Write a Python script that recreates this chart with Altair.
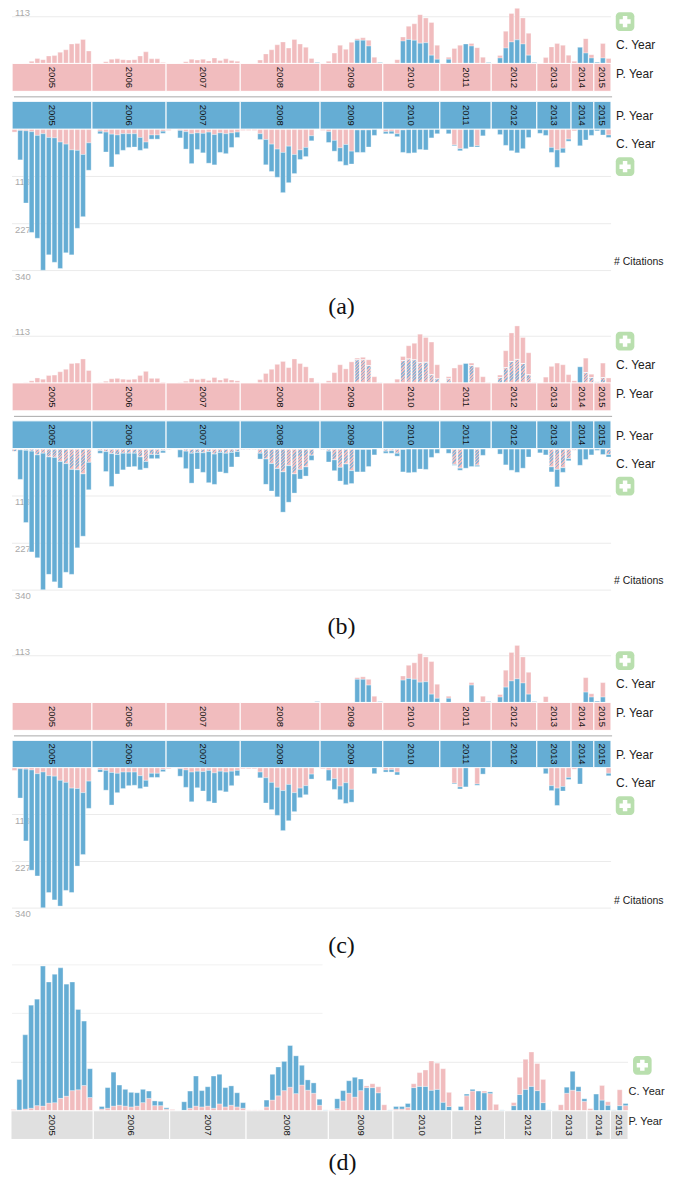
import altair as alt
import pandas as pd

YEARS = [2005, 2006, 2007, 2008, 2009, 2010, 2011, 2012, 2013, 2014, 2015]
SLOTS = [14, 13, 13, 14, 11, 10, 9, 8, 6, 4, 3]

top_total = [
    0,0,1,5,12,9,18,19,27,33,47,48,58,30,
    0,1,4,10,11,9,8,9,18,28,11,11,2,
    0,0,1,4,10,8,10,6,13,7,11,7,5,
    0,0,0,8,23,33,45,52,37,58,47,39,12,2,
    0,5,25,44,34,51,60,62,56,15,2,
    0,0,9,64,90,96,118,110,99,44,
    0,15,36,44,47,48,38,15,2,
    0,19,78,121,138,110,73,2,
    0,14,40,48,44,20,
    5,39,60,21,
    3,48,12,
]
top_blue = [0]*14 + [0]*13 + [0]*13 + [0]*13 + [2] + [
    0,0,0,0,0,0,56,56,42,0,2,
    0,0,0,54,58,56,49,50,20,10,
    0,10,0,0,47,42,0,0,2,
    0,13,37,52,57,47,20,2,
    0,0,0,0,0,0,
    0,39,25,13,
    3,13,0,
]
bottom_pink = [
    6,2,3,5,14,10,19,20,30,35,49,50,60,32,
    0,4,6,11,13,10,10,10,19,30,13,13,4,
    2,0,2,5,10,8,9,6,12,8,10,8,6,
    2,2,2,10,24,35,47,55,40,60,49,43,15,0,
    2,5,26,44,36,52,1,1,1,0,0,
    5,4,10,1,0,0,0,0,0,0,
    0,0,37,46,0,0,39,0,0,
    0,0,0,0,0,0,0,0,
    0,1,43,49,45,23,
    3,0,0,0,
    0,0,13,
]
bottom_total = [
    6,73,177,248,262,339,302,320,335,297,302,238,210,98,
    0,10,54,90,60,50,43,42,50,46,23,23,9,
    2,0,20,47,82,48,56,81,85,55,58,43,19,
    2,2,2,24,85,101,115,152,128,106,72,65,27,0,
    2,31,52,77,86,83,55,55,42,14,0,
    10,10,17,55,57,56,48,49,20,10,
    0,10,39,51,46,42,42,15,0,
    0,12,38,51,56,46,19,0,
    9,14,55,91,56,28,
    3,39,25,14,
    3,13,19,
]
d_pink = [
    3,2,4,6,12,11,18,19,29,34,47,49,59,31,
    0,4,6,11,13,11,9,11,19,29,12,12,4,
    3,0,1,6,11,9,11,6,16,9,13,9,6,
    2,2,2,9,25,35,47,55,40,60,48,41,13,0,
    2,5,23,41,32,47,4,9,14,14,0,
    4,4,8,9,32,38,68,61,78,33,
    0,0,35,46,0,4,40,15,0,
    0,7,40,70,80,63,54,0,
    0,14,41,48,45,22,
    5,0,34,8,
    0,37,12,
]
d_blue = [
    0,71,173,240,248,326,282,299,304,261,253,187,150,67,
    0,6,48,79,47,39,34,31,31,17,11,10,3,
    0,0,20,40,70,38,45,75,69,45,45,33,13,
    0,0,0,16,60,67,68,97,88,46,24,24,14,2,
    0,23,24,29,46,27,54,54,42,0,2,
    6,6,9,54,57,57,48,50,20,10,
    0,10,4,4,46,42,4,0,2,
    0,12,38,50,57,47,19,2,
    0,0,14,44,11,6,
    0,39,25,13,
    2,12,5,
]
d_blue_first = [0]*14 + [0]*13 + [0]*13 + [0]*14 + [
    0,0,0,0,0,0,1,1,1,0,0,
    0,0,0,1,1,1,1,1,1,1,
    0,0,0,0,0,1,0,0,0,
    1,1,1,1,1,1,1,1,
    0,0,0,0,0,0,
    0,0,1,1,
    0,1,0,
]
# Panel (c): which citation slots stay visible, per publication year
c_top_keep = {2008: [13], 2009: [6,7,8,9,10], 2010: [3,4,5,6,7,8,9], 2011: [1,5,7,8],
              2012: [1,2,3,4,5,6,7], 2013: [1], 2014: [2,3], 2015: [0,1]}
c_bottom_keep = {2005: list(range(14)), 2006: list(range(13)), 2007: list(range(13)),
                 2008: list(range(14)), 2009: [0,1,2,3,4,5,9], 2010: [0,1,2],
                 2011: [2,3,4,6,7], 2013: [1,2,3,4,5], 2014: [0,1], 2015: [2]}
# Panel (b): blue parts of the upper bars that are left solid
b_top_solid = {2011: [4], 2014: [1]}
TICKS = [113, 227, 340]

PINK = "#f1bcbe"
BLUE = "#65add4"
GREY = "#e0e0e0"
GRID = "#ebebeb"
SANS = "Liberation Sans"
N = sum(SLOTS)
WIDTH = 657

starts = [sum(SLOTS[:i]) for i in range(len(SLOTS))]
slot_year = [y for y, n in zip(YEARS, SLOTS) for _ in range(n)]
slot_idx = [i for n in SLOTS for i in range(n)]
frame = pd.DataFrame({
    "slot": range(N), "year": slot_year, "idx": slot_idx,
    "top_total": top_total, "top_blue": top_blue,
    "bottom_pink": bottom_pink, "bottom_total": bottom_total,
    "d_pink": d_pink, "d_blue": d_blue, "d_blue_first": d_blue_first,
})
strip = pd.DataFrame({
    "year": [str(y) for y in YEARS],
    "start": starts,
    "end": [s + n for s, n in zip(starts, SLOTS)],
})
strip["mid"] = (strip["start"] + strip["end"]) / 2
one = {"values": [{"a": 1}]}


def keep(df, table):
    mask = [i in table.get(y, []) for y, i in zip(df["year"], df["idx"])]
    return df[mask]


def band(xr):
    return alt.X("slot:O", axis=None,
                 scale=alt.Scale(domain=list(range(N)), range=xr, paddingInner=0.16, paddingOuter=0))


def bars(df, lo, hi, color, yscale, clip=False):
    d = pd.DataFrame({"slot": df["slot"], "lo": lo, "hi": hi})
    d = d[d["hi"] > d["lo"]]
    return alt.Chart(d).mark_bar(color=color, stroke="white", strokeWidth=0.6, strokeOpacity=0.55,
                                 clip=clip).encode(
        x=bandx, y=alt.Y("lo:Q", axis=None, scale=yscale, stack=None), y2="hi:Q")


def hatch_bars(df, lo, hi, yscale, px):
    """Striped bars: a striped fill whose stripe count follows the bar's height."""
    d = pd.DataFrame({"slot": df["slot"], "lo": lo, "hi": hi})
    d = d[d["hi"] > d["lo"]]
    d["key"] = ((d["hi"] - d["lo"]) * px).round().clip(lower=1).astype(int)
    out = []
    for key, g in d.groupby("key"):
        r = 4.8 / key
        dt = 3.4 / (key * (r * r + 1))
        m = max(1, int(1 / dt) + 1)
        stops = []
        for i in range(m):
            a, b, c = i / m, (i + 0.5) / m, (i + 1) / m
            stops += [{"offset": a, "color": "#8fb4d4"}, {"offset": b, "color": "#8fb4d4"},
                      {"offset": b, "color": PINK}, {"offset": c, "color": PINK}]
        fill = {"gradient": "linear", "x1": 0, "y1": 0, "x2": r, "y2": 1, "stops": stops}
        out.append(alt.Chart(g).mark_bar(color=fill, stroke="white", strokeWidth=0.8).encode(
            x=bandx, y=alt.Y("lo:Q", axis=None, scale=yscale, stack=None), y2="hi:Q"))
    return out


def label(text, x, y, size=12, color="#222222", font=SANS, align="left"):
    return alt.Chart(one).mark_text(text=text, fontSize=size, color=color, font=font, align=align,
                                    baseline="middle").encode(x=alt.value(x), y=alt.value(y))


def plus(x, y):
    box = alt.Chart(one).mark_rect(color="#b9dfae", cornerRadius=4).encode(
        x=alt.value(x), x2=alt.value(x + 18.6), y=alt.value(y), y2=alt.value(y + 18.8))
    cross = alt.Chart(one).mark_point(shape="cross", filled=True, color="white", size=125, opacity=1).encode(
        x=alt.value(x + 9.3), y=alt.value(y + 9.4))
    return [box, cross]


def grid(values, yscale, x0, x1, color=GRID):
    return alt.Chart(pd.DataFrame({"v": values})).mark_rule(color=color, strokeWidth=1).encode(
        x=alt.value(x0), x2=alt.value(x1), y=alt.Y("v:Q", axis=None, scale=yscale))


def tick_text(values, yscale, baseline, dy):
    return alt.Chart(pd.DataFrame({"v": values})).mark_text(
        align="left", baseline=baseline, dy=dy, fontSize=9.5, color="#aaaaaa", font=SANS).encode(
        x=alt.value(7), y=alt.Y("v:Q", axis=None, scale=yscale), text="v:Q")


def strip_chart(fill, height, rect_h, xr, legend, legend_y, legend_x=609, legend_size=12, separator=None, caption=None):
    xs = alt.Scale(domain=[0, N], range=xr)
    rect = alt.Chart(strip).mark_rect(color=fill, stroke="white", strokeWidth=1).encode(
        x=alt.X("start:Q", axis=None, scale=xs), x2="end:Q", y=alt.value(0), y2=alt.value(rect_h))
    text = alt.Chart(strip).mark_text(angle=90, fontSize=9.5, color="#111111", font=SANS,
                                      align="center", baseline="middle").encode(
        x=alt.X("mid:Q", axis=None, scale=xs), y=alt.value(rect_h / 2), text="year:N")
    layers = [rect, text, label(legend, legend_x, legend_y, size=legend_size)]
    if separator is not None:
        layers.append(alt.Chart(one).mark_rule(color="#aaaaaa", strokeWidth=1).encode(
            x=alt.value(6), x2=alt.value(605), y=alt.value(separator)))
    if caption is not None:
        layers.append(label(caption[0], caption[1], caption[2], size=24, color="#111111",
                            font="Liberation Serif", align="center"))
    return alt.layer(*layers).properties(width=WIDTH, height=height)


XR = [4.1, 603.9]
bandx = band(XR)


def panel(mode, caption, blue_rect=27.8, shift=0.3, bottom_px=0.4153):
    top_px = 0.4135
    top_h = 55
    strip_h = 38
    blue_h = 28
    bottom_h = 320 - top_h - strip_h - blue_h
    ys_top = alt.Scale(domain=[0, top_h / top_px], range=[top_h, 0], nice=False, zero=False)
    ys_bot = alt.Scale(domain=[0, bottom_h / bottom_px], range=[shift, bottom_h + shift], nice=False, zero=False)

    t = frame if mode != "c" else keep(frame, c_top_keep)
    b = frame if mode != "c" else keep(frame, c_bottom_keep)

    clip = mode == "a"
    top_layers = [grid([113], ys_top, 4, 604), tick_text([113], ys_top, "bottom", 1)]
    top_layers.append(bars(t, t["top_blue"], t["top_total"], PINK, ys_top, clip))
    if mode == "b":
        solid = [i in b_top_solid.get(y, []) for y, i in zip(t["year"], t["idx"])]
        s = t[solid]
        h = t[[not v for v in solid]]
        top_layers.append(bars(s, 0 * s["top_blue"], s["top_blue"], BLUE, ys_top))
        top_layers += hatch_bars(h, 0 * h["top_blue"], h["top_blue"], ys_top, top_px)
    else:
        top_layers.append(bars(t, 0 * t["top_blue"], t["top_blue"], BLUE, ys_top, clip))
    top_layers += plus(608.7, 3.7) + [label("C. Year", 609, 37)]
    top = alt.layer(*top_layers).properties(width=WIDTH, height=top_h)

    bot_layers = [grid(TICKS, ys_bot, 4, 604), tick_text(TICKS, ys_bot, "top", 1)]
    if mode == "b":
        bot_layers += hatch_bars(b, 0 * b["bottom_pink"], b["bottom_pink"], ys_bot, bottom_px)
    else:
        bot_layers.append(bars(b, 0 * b["bottom_pink"], b["bottom_pink"], PINK, ys_bot))
    bot_layers.append(bars(b, b["bottom_pink"], b["bottom_total"], BLUE, ys_bot))
    bot_layers += [label("C. Year", 609, 15)] + plus(608.7, 28)
    bot_layers += [label("# Citations", 607, 132.7, size=10.5),
                   label(caption, 334, 178, size=24, color="#111111", font="Liberation Serif", align="center")]
    bottom = alt.layer(*bot_layers).properties(width=WIDTH, height=bottom_h)

    return [
        top,
        strip_chart(PINK, strip_h, 28, XR, "P. Year", 10.7, separator=33.5),
        strip_chart(BLUE, blue_h, blue_rect, XR, "P. Year", 15),
        bottom,
    ]


def panel_d():
    global bandx
    xr = [3, 621]
    bandx = band(xr)
    px = 0.43
    h = 144
    ys = alt.Scale(domain=[0, h / px], range=[h, 0], nice=False, zero=False)
    first = frame["d_blue_first"] == 1
    lower_pink = frame[~first]
    lower_blue = frame[first]
    layers = [
        grid([113], ys, 3, 621),
        grid([227, 340], ys, 4, 315, "#f1f1f1"),
        bars(lower_pink, 0 * lower_pink["d_pink"], lower_pink["d_pink"], PINK, ys),
        bars(lower_pink, lower_pink["d_pink"], lower_pink["d_pink"] + lower_pink["d_blue"], BLUE, ys),
        bars(lower_blue, 0 * lower_blue["d_blue"], lower_blue["d_blue"], BLUE, ys),
        bars(lower_blue, lower_blue["d_blue"], lower_blue["d_pink"] + lower_blue["d_blue"], PINK, ys),
    ] + plus(626, 89) + [label("C. Year", 621.5, 125, size=11)]
    top = alt.layer(*layers).properties(width=WIDTH, height=h)
    s = strip_chart(GREY, 63, 28.7, xr, "P. Year", 11, legend_x=621.5, legend_size=11, caption=("(d)", 335, 52))
    return [top, s]


charts = panel("a", "(a)") + panel("b", "(b)") + panel("c", "(c)", blue_rect=27.3, shift=-0.4, bottom_px=0.413)
charts += panel_d()

chart = alt.vconcat(*charts, spacing=0, bounds="flush").properties(
    padding={"top": -1.4, "left": 0, "right": 0, "bottom": 0}
).configure_view(strokeWidth=0)
chart.save("out.html", embed_options={"renderer": "svg", "actions": False})
